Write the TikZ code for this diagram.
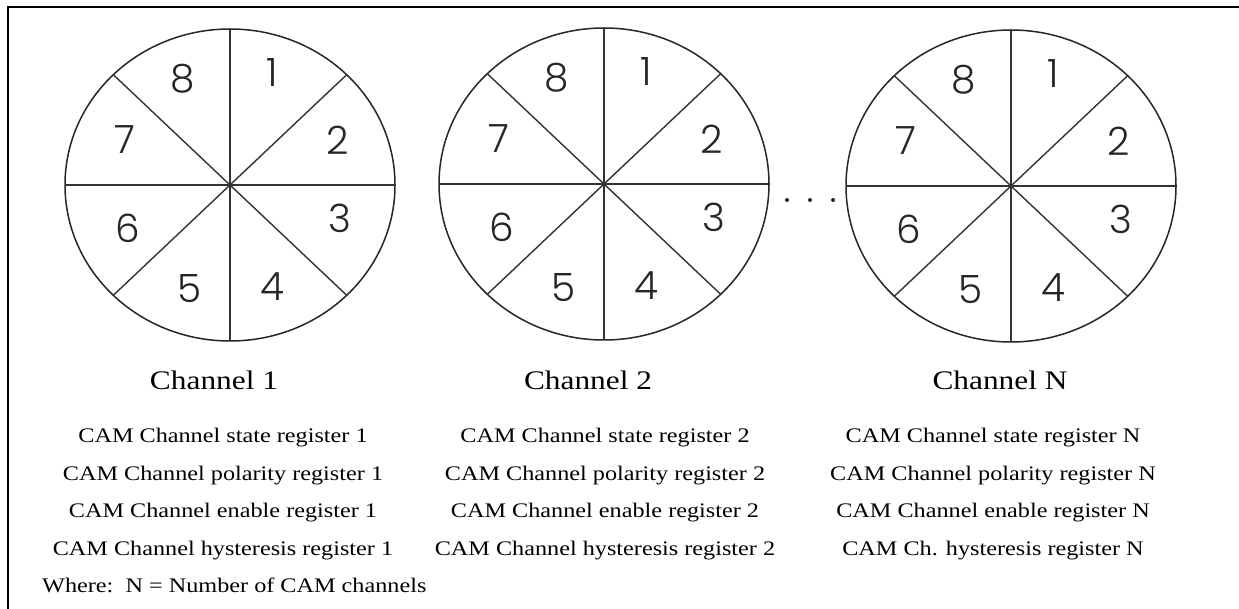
\documentclass[tikz,border=0pt]{standalone}
\usepackage{fontspec}
\setmainfont{Liberation Serif}[FakeStretch=1.17]
\newfontfamily\digitfont{Poppins}[UprightFont=* Light]
\begin{document}
\begin{tikzpicture}[x=1pt,y=-1pt,
  frame/.style={line width=2.8pt,black},
  wheel/.style={line width=1.5pt,black!85},
  spoke/.style={line width=1.4pt,black!80},
  digit/.style={inner sep=0pt,font=\digitfont\fontsize{39}{39}\selectfont,text=black!85},
  title/.style={inner sep=0pt,anchor=base,font=\fontsize{26.8}{30}\selectfont},
  reg/.style={inner sep=0pt,anchor=base,font=\fontsize{20.7}{24}\selectfont},
  dotmark/.style={circle,fill=black!85,inner sep=0pt,minimum size=4pt}]
\useasboundingbox (0,0) rectangle (1239,609);
\fill[white] (0,0) rectangle (1239,609);
% open frame: top and left rules
\coordinate (tl) at (8,7);
\coordinate (tr) at (1239,7);
\coordinate (bl) at (8,609);
\draw[frame] (tr) -- (tl) -- (bl);

% the three eight-sector wheels
\foreach \w/\cx/\cy in {a/230/185, b/604/184, n/1011/186}{
  \begin{scope}[shift={(\cx,\cy)}]
    \coordinate (c\w) at (0,0);
    \draw[wheel] (c\w) ellipse [x radius=165pt, y radius=156pt];
    \coordinate (t\w) at (0,-156);   \coordinate (b\w) at (0,156);
    \coordinate (l\w) at (-165,0);   \coordinate (r\w) at (165,0);
    \coordinate (ne\w) at (116.7,-110.3); \coordinate (sw\w) at (-116.7,110.3);
    \coordinate (nw\w) at (-116.7,-110.3); \coordinate (se\w) at (116.7,110.3);
    \draw[spoke] (t\w) -- (b\w);
    \draw[spoke] (l\w) -- (r\w);
    \draw[spoke] (ne\w) -- (sw\w);
    \draw[spoke] (nw\w) -- (se\w);
    \node[digit] (s1\w) at (42,-112) {1};
    \node[digit] (s2\w) at (108,-45) {2};
    \node[digit] (s3\w) at (110,33) {3};
    \node[digit] (s4\w) at (42,102) {4};
    \node[digit] (s5\w) at (-40,104) {5};
    \node[digit] (s6\w) at (-102,43) {6};
    \node[digit] (s7\w) at (-105,-45) {7};
    \node[digit] (s8\w) at (-47,-106) {8};
  \end{scope}
}

% ellipsis between channel 2 and channel N
\node[dotmark] (dot1) at (787,200) {};
\node[dotmark] (dot2) at (810,200) {};
\node[dotmark] (dot3) at (833,200) {};

% channel titles
\node[title] (cha) at (214,389) {Channel 1};
\node[title] (chb) at (588,389) {Channel 2};
\node[title] (chn) at (1000,389) {Channel N};

% register lists
\node[reg] (sta) at (223,442) {CAM Channel state register 1};
\node[reg] (pola) at (223,480) {CAM Channel polarity register 1};
\node[reg] (ena) at (223,517) {CAM Channel enable register 1};
\node[reg] (hya) at (223,555) {CAM Channel hysteresis register 1};

\node[reg] (stb) at (605,442) {CAM Channel state register 2};
\node[reg] (polb) at (605,480) {CAM Channel polarity register 2};
\node[reg] (enb) at (605,517) {CAM Channel enable register 2};
\node[reg] (hyb) at (605,555) {CAM Channel hysteresis register 2};

\node[reg] (stn) at (993,442) {CAM Channel state register N};
\node[reg] (poln) at (993,480) {CAM Channel polarity register N};
\node[reg] (enn) at (993,517) {CAM Channel enable register N};
\node[reg] (hyn) at (993,555) {CAM Ch. hysteresis register N};

\node[reg,anchor=base west] (note) at (42,592) {Where:\ \ N = Number of CAM channels};
\end{tikzpicture}
\end{document}
